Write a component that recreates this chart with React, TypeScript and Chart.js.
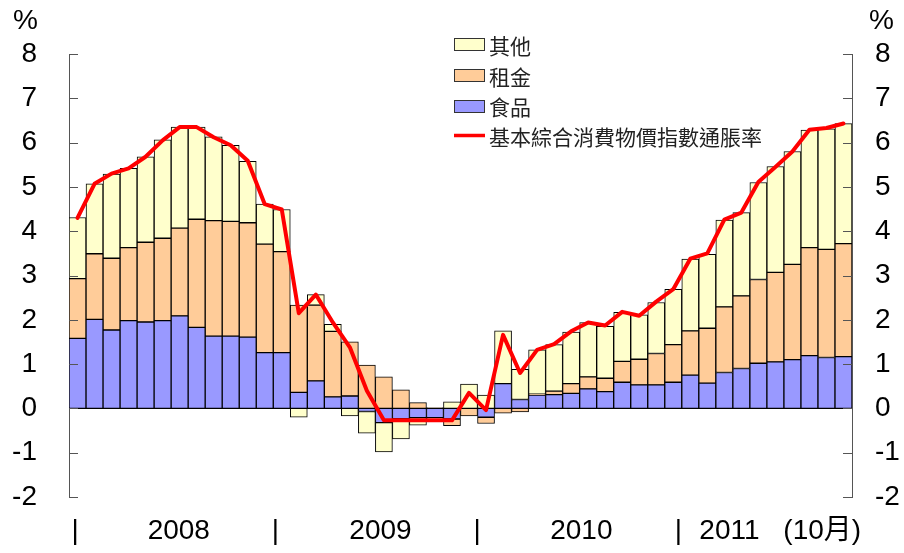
import React, { useEffect, useRef } from 'react';
import { Chart, registerables } from 'chart.js';

Chart.register(...registerables);

// ---- data ----
const months = [
  '2008-01', '2008-02', '2008-03', '2008-04', '2008-05', '2008-06', '2008-07', '2008-08', '2008-09', '2008-10', '2008-11', '2008-12',
  '2009-01', '2009-02', '2009-03', '2009-04', '2009-05', '2009-06', '2009-07', '2009-08', '2009-09', '2009-10', '2009-11', '2009-12',
  '2010-01', '2010-02', '2010-03', '2010-04', '2010-05', '2010-06', '2010-07', '2010-08', '2010-09', '2010-10', '2010-11', '2010-12',
  '2011-01', '2011-02', '2011-03', '2011-04', '2011-05', '2011-06', '2011-07', '2011-08', '2011-09', '2011-10',
];

const food = [
  1.58, 2.01, 1.77, 1.98, 1.95, 1.98, 2.09, 1.83, 1.63, 1.63, 1.61, 1.26,
  1.26, 0.36, 0.62, 0.26, 0.28, -0.07, -0.32, -0.23, -0.21, -0.21, -0.24, 0.0,
  -0.2, 0.56, 0.2, 0.3, 0.31, 0.34, 0.44, 0.38, 0.59, 0.53, 0.53, 0.59,
  0.75, 0.57, 0.81, 0.9, 1.02, 1.05, 1.1, 1.19, 1.15, 1.17,
];

const rent = [
  1.35, 1.48, 1.62, 1.65, 1.8, 1.86, 1.98, 2.44, 2.61, 2.59, 2.58, 2.45,
  2.28, 1.97, 1.71, 1.48, 1.22, 0.98, 0.71, 0.42, 0.13, 0.02, -0.15, -0.17,
  -0.14, -0.11, -0.08, 0.02, 0.08, 0.22, 0.27, 0.3, 0.47, 0.58, 0.71, 0.85,
  1.0, 1.24, 1.48, 1.64, 1.89, 2.02, 2.15, 2.44, 2.44, 2.55,
];

const other = [
  1.38, 1.58, 1.9, 1.79, 1.93, 2.22, 2.28, 2.08, 1.89, 1.72, 1.39, 0.9,
  0.95, -0.2, 0.24, 0.16, -0.17, -0.49, -0.66, -0.46, -0.17, -0.03, 0.15, 0.55,
  0.3, 1.19, 0.68, 1.0, 1.05, 1.16, 1.23, 1.17, 1.11, 1.0, 1.15, 1.25,
  1.62, 1.67, 1.96, 1.88, 2.19, 2.39, 2.55, 2.65, 2.72, 2.71,
];

const underlying = [
  4.3, 5.07, 5.3, 5.42, 5.68, 6.05, 6.35, 6.35, 6.12, 5.94, 5.59, 4.61,
  4.49, 2.15, 2.57, 1.94, 1.38, 0.4, -0.27, -0.27, -0.27, -0.27, -0.27, 0.35,
  -0.04, 1.66, 0.8, 1.32, 1.45, 1.74, 1.94, 1.87, 2.18, 2.09, 2.41, 2.69,
  3.38, 3.5, 4.26, 4.42, 5.11, 5.45, 5.8, 6.29, 6.33, 6.43,
];

const seriesNames = ['食品', '租金', '其他', '基本綜合消費物價指數通脹率'];
const legendOrder = ['其他', '租金', '食品', '基本綜合消費物價指數通脹率'];
const xAxisTexts = ['|', '2008', '|', '2009', '|', '2010', '|', '2011', '(10月)'];
const unitLabel = '%';
const yMin = -2;
const yMax = 8;

// ---- styles / layout ----
const FONT = "'Liberation Sans', Arial, 'Noto Sans CJK TC', sans-serif";
const CJK_FONT = "'Noto Sans CJK TC', 'Noto Sans CJK SC', sans-serif";
const colors: Record<string, string> = {
  '食品': '#9999FF',
  '租金': '#FFCC99',
  '其他': '#FFFFCC',
  '基本綜合消費物價指數通脹率': '#FF0000',
};
const xTextPos = [-0.14, 5.95, 11.63, 17.8, 23.48, 29.6, 35.3, 38.3, 43.75];

const decorPlugin = {
  id: 'decor',
  beforeDatasetsDraw(chart: any) {
    const { ctx, chartArea, scales } = chart;
    const y0 = Math.round(scales.y.getPixelForValue(0)) + 0.5;
    ctx.save();
    ctx.strokeStyle = '#000';
    ctx.lineWidth = 1;
    ctx.beginPath();
    ctx.moveTo(chartArea.left, y0);
    ctx.lineTo(chartArea.right, y0);
    ctx.stroke();
    ctx.restore();
  },
  afterDraw(chart: any) {
    const { ctx, chartArea, scales } = chart;
    const y = scales.y;
    const x = scales.x;
    ctx.save();
    // inward tick marks
    ctx.strokeStyle = '#555';
    ctx.lineWidth = 1;
    for (const t of y.ticks) {
      const py = Math.round(y.getPixelForValue(t.value)) + 0.5;
      ctx.beginPath();
      ctx.moveTo(chartArea.left, py);
      ctx.lineTo(chartArea.left + 9, py);
      ctx.moveTo(chartArea.right, py);
      ctx.lineTo(chartArea.right - 9, py);
      ctx.stroke();
    }
    // unit labels
    ctx.fillStyle = '#000';
    ctx.font = `28px ${FONT}`;
    ctx.textBaseline = 'middle';
    ctx.textAlign = 'right';
    ctx.fillText(unitLabel, 38, 21);
    ctx.textAlign = 'left';
    ctx.fillText(unitLabel, 869, 21);

    // x axis texts
    ctx.font = `28px ${FONT}`;
    ctx.textAlign = 'center';
    ctx.textBaseline = 'alphabetic';
    xAxisTexts.forEach((txt, i) => {
      const px = x.getPixelForValue(xTextPos[i]);
      ctx.fillText(txt, px, 539);
    });

    // legend
    const rowY = [44.7, 75.8, 106, 135.5];
    const bx = 454;
    const bw = 31;
    const bh = 13;
    ctx.font = `21px ${CJK_FONT}`;
    ctx.textAlign = 'left';
    ctx.textBaseline = 'middle';
    legendOrder.forEach((name, i) => {
      const cy = rowY[i];
      if (i < 3) {
        ctx.fillStyle = colors[name];
        ctx.fillRect(bx, Math.round(cy - bh / 2), bw, bh);
        ctx.strokeStyle = '#333';
        ctx.lineWidth = 1;
        ctx.strokeRect(bx + 0.5, Math.round(cy - bh / 2) + 0.5, bw - 1, bh - 1);
      } else {
        ctx.strokeStyle = colors[name];
        ctx.lineWidth = 3.5;
        ctx.beginPath();
        ctx.moveTo(bx, cy);
        ctx.lineTo(bx + bw, cy);
        ctx.stroke();
      }
      ctx.fillStyle = '#222';
      ctx.fillText(name, 489, cy + 1.5);
    });
    ctx.restore();
  },
};

export default function App() {
  const ref = useRef<HTMLCanvasElement>(null);

  useEffect(() => {
    if (!ref.current) return;
    const barBase = {
      type: 'bar' as const,
      borderColor: '#000',
      borderWidth: 1,
      borderSkipped: false,
      stack: 'cpi',
      order: 1,
      barPercentage: 1,
      categoryPercentage: 1,
      yAxisID: 'y',
    };
    const chart = new Chart(ref.current, {
      type: 'bar',
      data: {
        labels: months,
        datasets: [
          {
            type: 'line',
            label: seriesNames[3],
            data: underlying,
            borderColor: colors[seriesNames[3]],
            backgroundColor: colors[seriesNames[3]],
            borderWidth: 4,
            pointRadius: 0,
            fill: false,
            tension: 0,
            stack: 'line',
            order: 0,
            yAxisID: 'y',
            borderJoinStyle: 'round',
            borderCapStyle: 'round',
          } as any,
          { ...barBase, label: seriesNames[0], data: food, backgroundColor: colors[seriesNames[0]] } as any,
          { ...barBase, label: seriesNames[1], data: rent, backgroundColor: colors[seriesNames[1]] } as any,
          { ...barBase, label: seriesNames[2], data: other, backgroundColor: colors[seriesNames[2]] } as any,
        ],
      },
      options: {
        responsive: false,
        animation: false,
        layout: { padding: { top: 54, bottom: 56, left: 0, right: 0 } },
        plugins: { legend: { display: false }, tooltip: { enabled: false } },
        scales: {
          x: { type: 'category', display: false, stacked: true, offset: true, grid: { offset: true } },
          y: {
            position: 'left',
            min: yMin,
            max: yMax,
            stacked: true,
            ticks: { stepSize: 1, color: '#000', font: { size: 28, family: FONT }, padding: 32 },
            grid: { display: false, drawTicks: false },
            border: { display: true, color: '#555', width: 1 },
            afterFit: (s: any) => { s.width = 69; },
          },
          yR: {
            position: 'right',
            min: yMin,
            max: yMax,
            ticks: { stepSize: 1, color: '#000', font: { size: 28, family: FONT }, padding: 23 },
            grid: { display: false, drawTicks: false },
            border: { display: true, color: '#555', width: 1 },
            afterFit: (s: any) => { s.width = 52; },
          },
        },
      } as any,
      plugins: [decorPlugin],
    });
    return () => chart.destroy();
  }, []);

  return (
    <div style={{ position: 'fixed', left: 0, top: 0, width: 904, height: 553, background: '#fff' }}>
      <canvas ref={ref} width={904} height={553} style={{ display: 'block', width: 904, height: 553 }} />
    </div>
  );
}
